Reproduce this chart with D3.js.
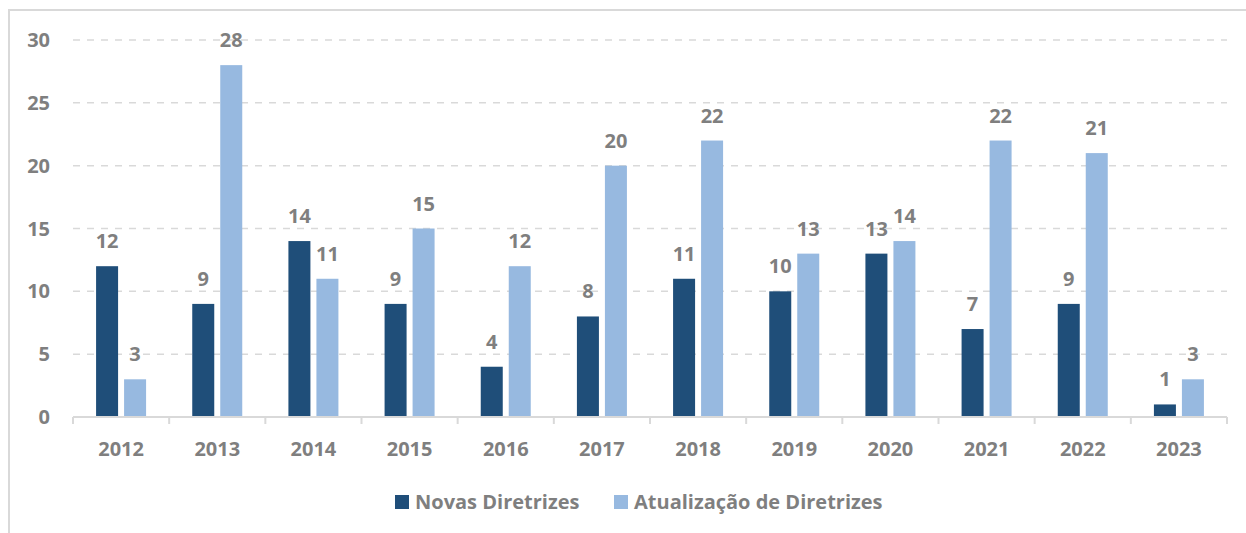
<!DOCTYPE html>
<html>
<head>
<meta charset="utf-8">
<script src="https://cdn.jsdelivr.net/npm/d3@7"></script>
<style>
  html, body { margin: 0; padding: 0; background: #fff; }
  svg { display: block; }
  text { font-family: "Open Sans", "Noto Sans", sans-serif; font-weight: 700; fill: #7f7f7f; }
</style>
</head>
<body>
<svg id="chart" width="1246" height="533"></svg>
<script>
// Diretrizes publicadas por ano
const years = ["2012", "2013", "2014", "2015", "2016", "2017", "2018", "2019", "2020", "2021", "2022", "2023"];
const novas = [12, 9, 14, 9, 4, 8, 11, 10, 13, 7, 9, 1];
const atualizacoes = [3, 28, 11, 15, 12, 20, 22, 13, 14, 22, 21, 3];
const seriesNames = ["Novas Diretrizes", "Atualização de Diretrizes"];
const seriesColors = ["#1f4e79", "#97b9e0"];
const yTicks = [0, 5, 10, 15, 20, 25, 30];

const svg = d3.select("#chart");
const W = 1246, H = 533;
const margin = { left: 73, right: 19, top: 40, bottom: 116 };
const fs = 20;

// outer frame of the chart area
svg.append("path")
  .attr("d", `M9,${H} L9,10 L${W},10`)
  .attr("fill", "none")
  .attr("stroke", "#d9d9d9")
  .attr("stroke-width", 2);

const x = d3.scaleBand()
  .domain(years)
  .range([margin.left, W - margin.right])
  .paddingInner(0)
  .paddingOuter(0);

const y = d3.scaleLinear()
  .domain([0, 30])
  .range([H - margin.bottom, margin.top]);

const barW = 22, barGap = 6;
const sub = d3.scaleOrdinal().domain([0, 1]).range([-barGap / 2 - barW, barGap / 2]);

// dashed gridlines
svg.append("g")
  .selectAll("line")
  .data(yTicks.filter(t => t > 0))
  .join("line")
  .attr("x1", margin.left)
  .attr("x2", W - margin.right)
  .attr("y1", d => y(d))
  .attr("y2", d => y(d))
  .attr("stroke", "#d9d9d9")
  .attr("stroke-width", 1.5)
  .attr("stroke-dasharray", "7,7");

// y tick labels
svg.append("g")
  .selectAll("text")
  .data(yTicks)
  .join("text")
  .attr("x", 50)
  .attr("y", d => y(d))
  .attr("dy", "0.35em")
  .attr("text-anchor", "end")
  .attr("font-size", fs)
  .text(d => d);

// bars
const data = years.map((yr, i) => ({ year: yr, values: [novas[i], atualizacoes[i]] }));
const groups = svg.append("g")
  .selectAll("g")
  .data(data)
  .join("g")
  .attr("transform", d => `translate(${x(d.year) + x.bandwidth() / 2},0)`);

groups.selectAll("rect")
  .data(d => d.values.map((v, k) => ({ v, k })))
  .join("rect")
  .attr("x", d => sub(d.k))
  .attr("width", barW)
  .attr("y", d => y(d.v))
  .attr("height", d => y(0) - y(d.v))
  .attr("fill", d => seriesColors[d.k]);

// value labels
groups.selectAll("text.val")
  .data(d => d.values.map((v, k) => ({ v, k })))
  .join("text")
  .attr("class", "val")
  .attr("x", d => sub(d.k) + barW / 2)
  .attr("y", d => y(d.v) - 18)
  .attr("text-anchor", "middle")
  .attr("font-size", fs)
  .text(d => d.v);

// x axis
const xAxis = svg.append("g").attr("transform", `translate(0,${y(0)})`);
xAxis.append("line")
  .attr("x1", margin.left).attr("x2", W - margin.right)
  .attr("stroke", "#d9d9d9").attr("stroke-width", 2);
const bounds = years.map(yr => x(yr)).concat([x(years[years.length - 1]) + x.bandwidth()]);
xAxis.selectAll("line.tick")
  .data(bounds)
  .join("line")
  .attr("class", "tick")
  .attr("x1", d => d).attr("x2", d => d)
  .attr("y1", 0).attr("y2", 7)
  .attr("stroke", "#d9d9d9").attr("stroke-width", 2);
xAxis.selectAll("text")
  .data(years)
  .join("text")
  .attr("x", d => x(d) + x.bandwidth() / 2)
  .attr("y", 39)
  .attr("text-anchor", "middle")
  .attr("font-size", fs)
  .text(d => d);

// legend
const legendItems = [{ x: 395, tx: 415 }, { x: 614, tx: 634 }];
const legend = svg.append("g");
legendItems.forEach((it, i) => {
  legend.append("rect")
    .attr("x", it.x).attr("y", 495)
    .attr("width", 14).attr("height", 14)
    .attr("fill", seriesColors[i]);
  legend.append("text")
    .attr("x", it.tx).attr("y", 509)
    .attr("font-size", fs)
    .text(seriesNames[i]);
});
</script>
</body>
</html>
